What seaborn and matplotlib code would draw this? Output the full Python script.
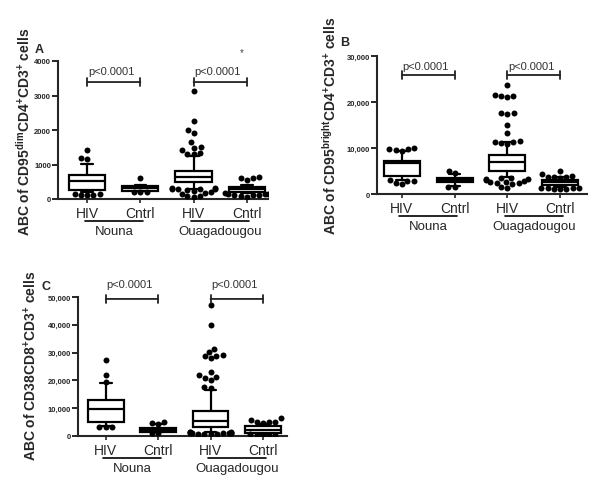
import warnings
import numpy as np
import pandas as pd
import matplotlib
matplotlib.use("Agg")
import matplotlib.pyplot as plt
import matplotlib.transforms as mtransforms
import seaborn as sns

warnings.filterwarnings("ignore")

# groups (same order in every panel)
groups = ["Nouna HIV", "Nouna Cntrl", "Ouaga HIV", "Ouaga Cntrl"]
tick_labels = ["HIV", "Cntrl", "HIV", "Cntrl"]
sites = ["Nouna", "Ouagadougou"]

# -------------------------
# Panel A: CD95dim CD4+ CD3+
# -------------------------
a_whislo = [200, 230, 290, 170]
a_q1 = [250, 240, 483, 212]
a_med = [520, 320, 630, 290]
a_q3 = [700, 386, 820, 357]
a_whishi = [1010, 420, 1236, 410]
a_out_nouna_hiv = [1420, 1190, 1160, 150, 130, 110, 150, 120]
a_out_nouna_cntrl = [610, 200, 190, 210]
a_out_ouaga_hiv = [3130, 2270, 2000, 1900, 1640, 1500, 1480, 1420, 1330, 1310, 1290,
                   330, 320, 300, 300, 290, 280, 260, 240, 200, 180, 150, 80, 60, 90]
a_out_ouaga_cntrl = [650, 620, 600, 560, 150, 140, 130, 120, 110, 100, 150, 160, 60]

# -------------------------
# Panel B: CD95bright CD4+ CD3+
# -------------------------
b_whislo = [3110, 1800, 3620, 1500]
b_q1 = [3840, 2540, 4930, 2030]
b_med = [6740, 3040, 6880, 2540]
b_q3 = [7240, 3480, 8550, 3040]
b_whishi = [9420, 4350, 11240, 3600]
b_out_nouna_hiv = [10000, 9800, 9700, 9500, 9400, 3000, 2900, 2500, 2200, 2800]
b_out_nouna_cntrl = [4900, 4500, 1600, 1600]
b_out_ouaga_hiv = [23800, 21500, 21300, 21000, 21200, 17700, 17600, 17500, 15100, 13200,
                   11500, 11300, 11200, 11000, 10900, 3500, 3400, 3300, 3200, 3000,
                   2900, 2600, 2500, 2300, 2200, 1600, 1400, 2700]
b_out_ouaga_cntrl = [4900, 4400, 3900, 3800, 3700, 3600, 3500,
                     1300, 1200, 1100, 1100, 1000, 1200, 1300]

# -------------------------
# Panel C: CD38 CD8+ CD3+
# -------------------------
c_whislo = [3700, 1300, 1600, 500]
c_q1 = [5150, 1560, 3350, 970]
c_med = [9710, 2280, 5510, 2280]
c_q3 = [13060, 2880, 9110, 3720]
c_whishi = [19060, 4300, 16550, 4200]
c_out_nouna_hiv = [27300, 21900, 19500, 3400, 3200, 3300]
c_out_nouna_cntrl = [5000, 4600, 4400, 1200, 1000]
c_out_ouaga_hiv = [47200, 39900, 31300, 30100, 28800, 28600, 29100, 28000, 23000, 22000,
                   21300, 21000, 20300, 17700, 17300, 1400, 1300, 1200, 1100, 1000,
                   900, 800, 700, 600, 1500, 1200, 900, 700]
c_out_ouaga_cntrl = [6300, 5800, 5200, 5100, 5000, 4800, 600, 500, 400, 300, 500]

sns.set_style("ticks")
plt.rcParams["font.family"] = ["Liberation Sans", "DejaVu Sans"]
plt.rcParams["mathtext.fontset"] = "custom"
plt.rcParams["mathtext.bf"] = "Liberation Sans:bold"
plt.rcParams["mathtext.rm"] = "Liberation Sans:bold"
plt.rcParams["mathtext.default"] = "bf"


def draw_panel(ax, whislo, q1, med, q3, whishi, outliers, yticks, comma, xlim,
               bracket_y, ptext_y):
    stats = []
    for i in range(4):
        stats.append(dict(whislo=whislo[i], q1=q1[i], med=med[i], q3=q3[i],
                          whishi=whishi[i], fliers=[]))
    ax.bxp(stats, positions=range(4), widths=0.68, patch_artist=True,
           showfliers=False, manage_ticks=False,
           boxprops=dict(facecolor="white", edgecolor="black", linewidth=1.6),
           medianprops=dict(color="black", linewidth=1.6),
           whiskerprops=dict(color="black", linewidth=1.6),
           capprops=dict(color="black", linewidth=1.6),
           capwidths=0.22)

    rows = []
    for g, vals in zip(groups, outliers):
        for v in vals:
            rows.append((g, v))
    df = pd.DataFrame(rows, columns=["group", "value"])
    sns.swarmplot(data=df, x="group", y="value", order=groups, color="black",
                  size=4.3, ax=ax, zorder=3)

    ax.set_xlim(*xlim)
    ax.set_ylim(yticks[0], yticks[-1])
    ax.set_xlabel("")
    ax.set_ylabel("")
    ax.set_xticks(range(4), labels=tick_labels, fontsize=10)
    if comma:
        ylabels = [f"{t:,}" for t in yticks]
    else:
        ylabels = [str(t) for t in yticks]
    ax.set_yticks(yticks, labels=ylabels, fontsize=5.5, fontweight="bold")
    ax.tick_params(axis="y", length=4, width=1.4, pad=1)
    ax.tick_params(axis="x", length=3, width=1.2, pad=2)
    sns.despine(ax=ax)
    for s in ["left", "bottom"]:
        ax.spines[s].set_linewidth(1.5)

    # significance brackets
    for x0 in [0, 2]:
        ax.annotate("", xy=(x0, bracket_y), xytext=(x0 + 1, bracket_y),
                    arrowprops=dict(arrowstyle="|-|, widthA=0.3, widthB=0.3",
                                    lw=1.3, color="#222222",
                                    shrinkA=0, shrinkB=0),
                    annotation_clip=False)
        ax.text(x0 + 0.45, ptext_y, "p<0.0001", ha="center", va="center",
                fontsize=8, color="#333333", clip_on=False)

    # site labels under the categories
    trans = mtransforms.blended_transform_factory(ax.transData, ax.transAxes)
    for x0, site in zip([0, 2], sites):
        ax.plot([x0 - 0.05, x0 + 1.05], [-0.16, -0.16], transform=trans,
                color="black", lw=1.2, clip_on=False)
        ax.text(x0 + 0.5, -0.23, site, transform=trans, ha="center", va="center",
                fontsize=9.5)


fig = plt.figure(figsize=(6, 4.81), dpi=100)
W, H = 600, 481


def add_axes_px(x0, x1, ytop, ybot):
    return fig.add_axes([x0 / W, 1 - ybot / H, (x1 - x0) / W, (ybot - ytop) / H])


axA = add_axes_px(58, 268, 62, 200)
draw_panel(axA, a_whislo, a_q1, a_med, a_q3, a_whishi,
           [a_out_nouna_hiv, a_out_nouna_cntrl, a_out_ouaga_hiv, a_out_ouaga_cntrl],
           [0, 1000, 2000, 3000, 4000], False, (-0.55, 3.4), 3390, 3710)

axB = add_axes_px(377, 587, 57, 195)
draw_panel(axB, b_whislo, b_q1, b_med, b_q3, b_whishi,
           [b_out_nouna_hiv, b_out_nouna_cntrl, b_out_ouaga_hiv, b_out_ouaga_cntrl],
           [0, 10000, 20000, 30000], True, (-0.47, 3.51), 25870, 27800)

axC = add_axes_px(78, 287, 298, 437)
draw_panel(axC, c_whislo, c_q1, c_med, c_q3, c_whishi,
           [c_out_nouna_hiv, c_out_nouna_cntrl, c_out_ouaga_hiv, c_out_ouaga_cntrl],
           [0, 10000, 20000, 30000, 40000, 50000], True, (-0.53, 3.46), 49300, 54700)

# y axis titles
fig.text(24 / W, 1 - 132 / H, r"ABC of CD95$^{dim}$CD4$^{+}$CD3$^{+}$ cells",
         rotation=90, ha="center", va="center", fontsize=10, fontweight="bold")
fig.text(330 / W, 1 - 126 / H, r"ABC of CD95$^{bright}$CD4$^{+}$CD3$^{+}$ cells",
         rotation=90, ha="center", va="center", fontsize=10, fontweight="bold")
fig.text(31 / W, 1 - 366 / H, r"ABC of CD38CD8$^{+}$CD3$^{+}$ cells",
         rotation=90, ha="center", va="center", fontsize=10, fontweight="bold")

# panel letters
fig.text(39 / W, 1 - 50 / H, "A", ha="center", va="center", fontsize=9, fontweight="bold")
fig.text(345 / W, 1 - 43 / H, "B", ha="center", va="center", fontsize=9, fontweight="bold")
fig.text(46 / W, 1 - 287 / H, "C", ha="center", va="center", fontsize=9, fontweight="bold")
fig.text(242 / W, 1 - 53 / H, "*", ha="center", va="center", fontsize=7, color="#444444")

fig.savefig("out.png", dpi=100)
